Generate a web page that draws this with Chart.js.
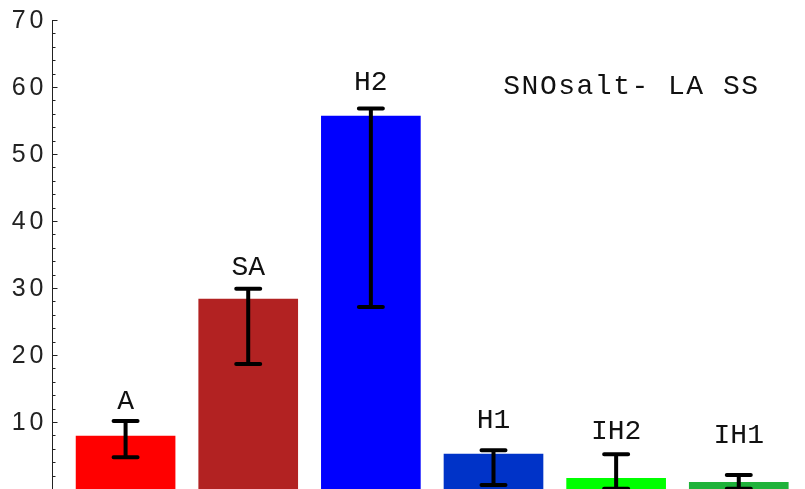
<!DOCTYPE html>
<html>
<head>
<meta charset="utf-8">
<script src="https://cdn.jsdelivr.net/npm/chart.js@4.4.1/dist/chart.umd.min.js"></script>
<style>
  html, body { margin: 0; padding: 0; background: #fff; overflow: hidden; }
  #wrap { width: 805px; height: 489px; position: relative; }
</style>
</head>
<body>
<div id="wrap"><canvas id="c"></canvas></div>
<script>
// ---- data ----
const categories = ['A', 'SA', 'H2', 'H1', 'IH2', 'IH1'];
const values     = [7.9, 28.35, 55.65, 5.2, 1.6, 1.0];
const errHigh    = [10.15, 29.9, 56.8, 5.8, 5.2, 2.1];
const errLow     = [4.75, 18.65, 27.15, 0.6, 0.05, 0.05];
const labelAt    = [11.9, 32.0, 59.6, 9.05, 7.4, 6.8];
const barColors  = ['#ff0000', '#b22222', '#0000ff', '#0033c8', '#00ff00', '#1fb23a'];
const yTicks     = [10, 20, 30, 40, 50, 60, 70];
const titleText  = 'SNOsalt- LA SS';
const titlePos   = { x: 3.08, y: 58.9 };

const points = values.map((v, i) => ({ x: i, y: v }));

const overlay = {
  id: 'overlay',
  afterDatasetsDraw(chart) {
    const ctx = chart.ctx;
    const xs = chart.scales.x, ys = chart.scales.y;
    const area = chart.chartArea;
    ctx.save();
    // axis line + ticks (inside)
    ctx.strokeStyle = '#222';
    ctx.lineWidth = 1;
    const ax = Math.round(area.left) + 0.5;
    ctx.beginPath();
    ctx.moveTo(ax, ys.getPixelForValue(70));
    ctx.lineTo(ax, area.bottom);
    for (let v = 0; v <= 70; v += 2) {
      const py = Math.round(ys.getPixelForValue(v)) + 0.5;
      const len = (v % 10 === 0) ? 5 : 3;
      ctx.moveTo(ax, py);
      ctx.lineTo(ax + len, py);
    }
    ctx.stroke();

    // y tick labels
    ctx.fillStyle = '#222';
    ctx.font = '25px "Liberation Sans", Arial, sans-serif';
    ctx.letterSpacing = '4px';
    ctx.textAlign = 'right';
    ctx.textBaseline = 'middle';
    ys.ticks.forEach(t => {
      ctx.fillText(String(t.value), area.left - 4.5, ys.getPixelForValue(t.value) + 1);
    });

    // error bars
    ctx.strokeStyle = '#000';
    ctx.lineWidth = 4;
    ctx.lineCap = 'round';
    categories.forEach((c, i) => {
      const px = xs.getPixelForValue(i);
      const hi = ys.getPixelForValue(errHigh[i]);
      const lo = ys.getPixelForValue(errLow[i]);
      ctx.beginPath();
      ctx.moveTo(px, hi); ctx.lineTo(px, lo);
      ctx.moveTo(px - 12, hi); ctx.lineTo(px + 12, hi);
      ctx.moveTo(px - 12, lo); ctx.lineTo(px + 12, lo);
      ctx.stroke();
    });

    // labels
    ctx.fillStyle = '#111';
    ctx.letterSpacing = '0px';
    ctx.font = '28px "Liberation Mono", "Courier New", monospace';
    ctx.textAlign = 'center';
    ctx.textBaseline = 'alphabetic';
    categories.forEach((c, i) => {
      ctx.fillText(c, xs.getPixelForValue(i), ys.getPixelForValue(labelAt[i]));
    });
    ctx.textAlign = 'left';
    ctx.letterSpacing = '1.5px';
    ctx.fillText(titleText, xs.getPixelForValue(titlePos.x), ys.getPixelForValue(titlePos.y));
    ctx.restore();
  }
};

new Chart(document.getElementById('c'), {
  type: 'bar',
  data: {
    datasets: [{
      data: points,
      backgroundColor: barColors,
      borderWidth: 0,
      barThickness: 99
    }]
  },
  options: {
    responsive: true,
    maintainAspectRatio: false,
    animation: false,
    events: [],
    layout: { padding: { top: 20, right: 0, bottom: 0, left: 0 } },
    plugins: { legend: { display: false }, tooltip: { enabled: false } },
    scales: {
      x: {
        type: 'linear',
        min: -0.6,
        max: 5.54,
        offset: false,
        display: false,
        grid: { offset: false }
      },
      y: {
        min: 0,
        max: 70,
        afterFit(scale) {
          scale.width = 52;
          scale.paddingTop = 0;
          scale.paddingBottom = 0;
        },
        afterBuildTicks(scale) { scale.ticks = yTicks.map(v => ({ value: v })); },
        grid: { display: false },
        border: { display: false },
        ticks: { display: false }
      }
    }
  },
  plugins: [overlay]
});
</script>
</body>
</html>
